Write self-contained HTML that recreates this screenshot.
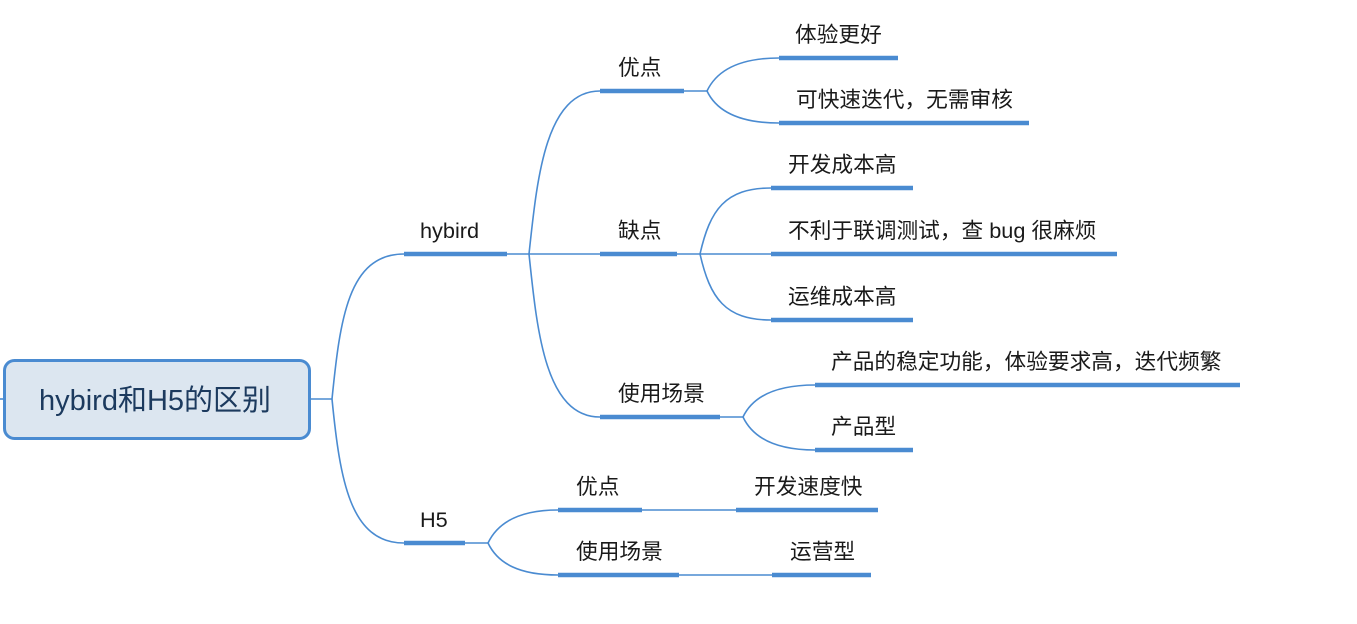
<!DOCTYPE html>
<html><head><meta charset="utf-8"><style>
html,body{margin:0;padding:0;background:#fff;}
svg{display:block;}
text{font-family:"Liberation Sans","Noto Sans CJK SC",sans-serif;font-size:21.7px;fill:#1a1a1a;}
</style></head><body>
<svg width="1357" height="624" viewBox="0 0 1357 624" xmlns="http://www.w3.org/2000/svg">
<g fill="none" stroke="#4a8bd1" stroke-width="1.6">
<line x1="0" y1="399" x2="4" y2="399"/>
<line x1="311" y1="399" x2="332" y2="399"/>
<path d="M332 399 C340 320 348 254 404 254"/>
<path d="M332 399 C340 480 350 543 404 543"/>
<line x1="507" y1="254" x2="600" y2="254"/>
<path d="M529 254 C537 180 545 91 600 91"/>
<path d="M529 254 C537 330 545 417 600 417"/>
<line x1="684" y1="91" x2="707" y2="91"/>
<path d="M707 91 C717 70 740 58 779 58"/>
<path d="M707 91 C717 112 740 123 779 123"/>
<line x1="677" y1="254" x2="771" y2="254"/>
<path d="M700 254 C710 210 725 188 771 188"/>
<path d="M700 254 C710 298 725 320 771 320"/>
<line x1="720" y1="417" x2="743" y2="417"/>
<path d="M743 417 C753 396 776 385 815 385"/>
<path d="M743 417 C753 438 776 450 815 450"/>
<line x1="465" y1="543" x2="488" y2="543"/>
<path d="M488 543 C498 522 520 510 558 510"/>
<path d="M488 543 C498 564 520 575 558 575"/>
<line x1="642" y1="510" x2="736" y2="510"/>
<line x1="679" y1="575" x2="772" y2="575"/>
</g>
<g stroke="#4a8bd1" stroke-width="4.5">
<line x1="404" y1="254" x2="507" y2="254"/>
<line x1="600" y1="91" x2="684" y2="91"/>
<line x1="600" y1="254" x2="677" y2="254"/>
<line x1="600" y1="417" x2="720" y2="417"/>
<line x1="779" y1="58" x2="898" y2="58"/>
<line x1="779" y1="123" x2="1029" y2="123"/>
<line x1="771" y1="188" x2="913" y2="188"/>
<line x1="771" y1="254" x2="1117" y2="254"/>
<line x1="771" y1="320" x2="913" y2="320"/>
<line x1="815" y1="385" x2="1240" y2="385"/>
<line x1="815" y1="450" x2="913" y2="450"/>
<line x1="404" y1="543" x2="465" y2="543"/>
<line x1="558" y1="510" x2="642" y2="510"/>
<line x1="558" y1="575" x2="679" y2="575"/>
<line x1="736" y1="510" x2="878" y2="510"/>
<line x1="772" y1="575" x2="871" y2="575"/>
</g>
<rect x="4.5" y="360.5" width="305" height="78" rx="10" fill="#dce6f0" stroke="#4a8bd1" stroke-width="3"/>
<text x="155" y="410" text-anchor="middle" style="font-size:29px;fill:#1c3a5e">hybird和H5的区别</text>
<text x="420" y="238">hybird</text>
<text x="618" y="75">优点</text>
<text x="618" y="238">缺点</text>
<text x="618" y="401">使用场景</text>
<text x="795" y="42">体验更好</text>
<text x="796" y="107">可快速迭代，无需审核</text>
<text x="788" y="172">开发成本高</text>
<text x="788" y="238">不利于联调测试，查 bug 很麻烦</text>
<text x="788" y="304">运维成本高</text>
<text x="831" y="369">产品的稳定功能，体验要求高，迭代频繁</text>
<text x="831" y="434">产品型</text>
<text x="420" y="527">H5</text>
<text x="576" y="494">优点</text>
<text x="576" y="559">使用场景</text>
<text x="754" y="494">开发速度快</text>
<text x="790" y="559">运营型</text>
</svg>
</body></html>
